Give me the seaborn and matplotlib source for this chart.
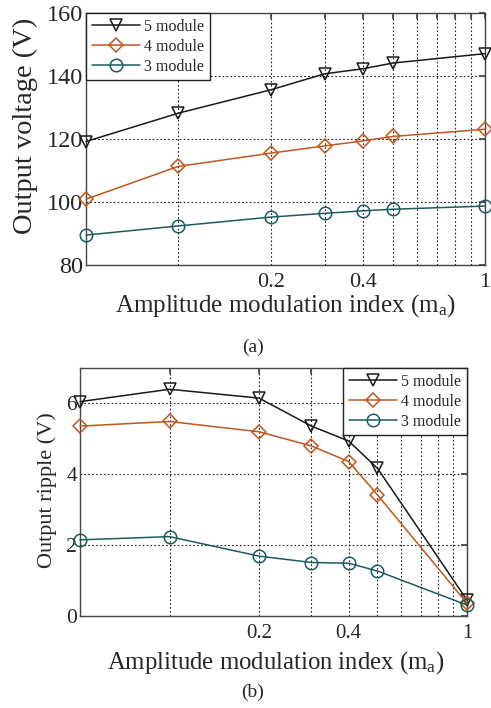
import matplotlib
matplotlib.use("Agg")
import matplotlib.pyplot as plt
import seaborn as sns
import numpy as np
import pandas as pd

# Amplitude modulation index values
ma = [0.05, 0.1, 0.2, 0.3, 0.4, 0.5, 1.0]
series_names = ["5 module", "4 module", "3 module"]

# (a) output voltage (V)
volt_5 = [119.2, 128.2, 135.6, 140.7, 142.3, 144.1, 147.1]
volt_4 = [100.9, 111.3, 115.5, 117.8, 119.4, 120.8, 123.1]
volt_3 = [89.5, 92.4, 95.2, 96.4, 97.2, 97.7, 98.7]

# (b) output ripple (V)
ripple_5 = [6.05, 6.40, 6.15, 5.36, 4.94, 4.17, 0.45]
ripple_4 = [5.36, 5.49, 5.20, 4.80, 4.36, 3.42, 0.36]
ripple_3 = [2.15, 2.24, 1.69, 1.51, 1.49, 1.27, 0.31]

grid_ticks = [0.1, 0.2, 0.3, 0.4, 0.5, 0.6, 0.7, 0.8, 0.9, 1.0]
grid_labels = ["", "0.2", "", "0.4", "", "", "", "", "", "1"]

sns.set_theme(style="white")
plt.rcParams["font.family"] = ["Liberation Serif", "DejaVu Serif"]
plt.rcParams["mathtext.fontset"] = "custom"
plt.rcParams["mathtext.rm"] = "Liberation Serif"
plt.rcParams["mathtext.it"] = "Liberation Serif"

colors = {"5 module": "#1a1a1a", "4 module": "#c0561e", "3 module": "#1d5c5e"}
markers = {"5 module": "v", "4 module": "D", "3 module": "o"}
msizes = {"5 module": 9, "4 module": 7, "3 module": 9}

W, H = 491, 708
fig = plt.figure(figsize=(W / 100, H / 100), dpi=100)
ax1 = fig.add_axes([86 / W, 1 - 265 / H, 399 / W, 252 / H])
ax2 = fig.add_axes([80 / W, 1 - 616 / H, 387 / W, 248 / H])


def draw(ax, values, ylim, yticks, ylabel, xtick_fs, ytick_fs, ylab_fs, ylab_xy,
         xlab_fs, xlab_xy, legend_loc):
    for name, vals in zip(series_names, values):
        df = pd.DataFrame({"ma": ma, "val": vals})
        sns.lineplot(data=df, x="ma", y="val", ax=ax, color=colors[name],
                     marker=markers[name], markersize=msizes[name],
                     mfc="none", mec=colors[name], mew=1.1, linewidth=1.1,
                     label=name, clip_on=False, zorder=3)
    ax.set_xscale("log")
    ax.set_xlim(0.05, 1.0)
    ax.set_ylim(*ylim)
    ax.set_xticks(grid_ticks)
    ax.set_xticklabels(grid_labels)
    ax.xaxis.set_minor_locator(matplotlib.ticker.NullLocator())
    ax.set_yticks(yticks)
    ax.set_yticklabels([str(t) for t in yticks])
    ax.grid(True, which="major", color="#222222", linestyle=(0, (1.5, 2)), linewidth=0.8)
    ax.tick_params(axis="both", which="both", direction="in", length=4,
                   top=True, right=True, color="#444444")
    ax.tick_params(axis="x", pad=6, labelsize=xtick_fs)
    ax.tick_params(axis="y", pad=2, labelsize=ytick_fs)
    for s in ax.spines.values():
        s.set_color("#444444")
        s.set_linewidth(1.0)
    ax.set_ylabel(ylabel, fontsize=ylab_fs)
    ax.yaxis.set_label_coords(ylab_xy[0] / W, 1 - ylab_xy[1] / H, transform=fig.transFigure)
    ax.yaxis.label.set_va("center")
    ax.set_xlabel(r"Amplitude modulation index (m$_{\rm a}$)", fontsize=xlab_fs)
    ax.xaxis.set_label_coords(xlab_xy[0] / W, 1 - xlab_xy[1] / H, transform=fig.transFigure)
    ax.xaxis.label.set_va("center")
    leg = ax.legend(loc=legend_loc, fontsize=11.5, frameon=True, fancybox=False,
                    framealpha=1, edgecolor="#222222", borderaxespad=0,
                    handlelength=3.0, handletextpad=0.3, labelspacing=0.25,
                    borderpad=0.35)
    leg.get_frame().set_linewidth(1.0)


draw(ax1, [volt_5, volt_4, volt_3], (80, 160), [80, 100, 120, 140, 160],
     "Output voltage (V)", 16, 17.5, 20.5, (25, 126), 18, (285, 306), "upper left")
draw(ax2, [ripple_5, ripple_4, ripple_3], (0, 7), [0, 2, 4, 6],
     "Output ripple (V)", 15, 15.5, 16, (47, 490), 17.8, (276, 663), "upper right")

fig.text(253 / W, 1 - 347 / H, "(a)", ha="center", va="center", fontsize=14)
fig.text(253 / W, 1 - 692 / H, "(b)", ha="center", va="center", fontsize=14)

fig.savefig("out.png", dpi=100, facecolor="white")
